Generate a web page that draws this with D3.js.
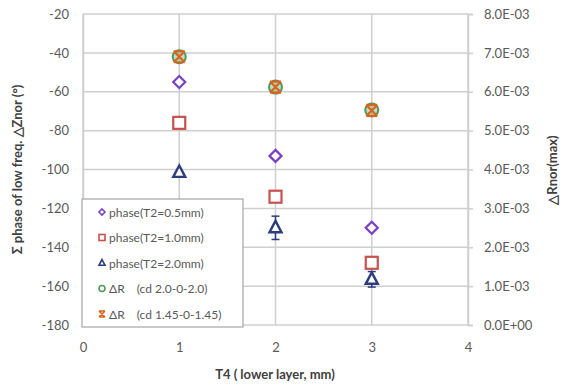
<!DOCTYPE html>
<html>
<head>
<meta charset="utf-8">
<script src="https://cdn.jsdelivr.net/npm/d3@7"></script>
<style>
  html, body { margin: 0; padding: 0; background: #fff; }
  svg { display: block; font-family: Lato, "Open Sans", sans-serif; }
</style>
</head>
<body>
<svg id="chart" width="569" height="387"></svg>
<script>
// T4 thickness (lower layer, mm)
const t4 = [1, 2, 3];

// Σ phase of low-frequency ΔZnor (°), left axis
const phaseT2_05 = [-55, -93, -130];
const phaseT2_10 = [-76, -114, -148];
const phaseT2_20 = [-101.5, -130, -156.5];
const phaseT2_20Err = [0, 6, 4];

// ΔRnor(max), right axis
const dR_cd20 = [0.0069, 0.00612, 0.00553];
const dR_cd145 = [0.0069, 0.00612, 0.00552];

const xTicks = [0, 1, 2, 3, 4];
const yLeftTicks = [-20, -40, -60, -80, -100, -120, -140, -160, -180];
const yRightTicks = [0, 0.001, 0.002, 0.003, 0.004, 0.005, 0.006, 0.007, 0.008];

const legendLabels = [
  "phase(T2=0.5mm)",
  "phase(T2=1.0mm)",
  "phase(T2=2.0mm)",
  "ΔR\u3000(cd 2.0-0-2.0)",
  "ΔR\u3000(cd 1.45-0-1.45)"
];

const svg = d3.select("#chart");
const plot = { left: 83, right: 468, top: 14, bottom: 325 };

const x = d3.scaleLinear().domain([0, 4]).range([plot.left, plot.right]);
const yL = d3.scaleLinear().domain([-180, -20]).range([plot.bottom, plot.top]);
const yR = d3.scaleLinear().domain([0, 0.008]).range([plot.bottom, plot.top]);

const gridColor = "#cfcfcf";
const textColor = "#595959";

// gridlines
svg.append("g").selectAll("line").data(yLeftTicks).join("line")
  .attr("x1", plot.left).attr("x2", plot.right)
  .attr("y1", d => yL(d)).attr("y2", d => yL(d))
  .attr("stroke", gridColor).attr("stroke-width", 1.5);
svg.append("g").selectAll("line").data(xTicks).join("line")
  .attr("x1", d => x(d)).attr("x2", d => x(d))
  .attr("y1", plot.top).attr("y2", plot.bottom)
  .attr("stroke", gridColor).attr("stroke-width", 1.5);

// axes
const axisLeft = d3.axisLeft(yL).tickValues(yLeftTicks).tickSize(0).tickPadding(14)
  .tickFormat(d => String(d));
const axisRight = d3.axisRight(yR).tickValues(yRightTicks).tickSize(5).tickPadding(11)
  .tickFormat(d => d.toExponential(1).toUpperCase().replace(/E([+-])(\d)$/, "E$10$2"));
const axisBottom = d3.axisBottom(x).tickValues(xTicks).tickSize(0).tickPadding(18)
  .tickFormat(d => String(d));

function styleAxis(g) {
  g.select(".domain").attr("stroke", gridColor).attr("stroke-width", 1.5);
  g.selectAll(".tick line").attr("stroke", gridColor).attr("stroke-width", 1.5);
  g.selectAll(".tick text").attr("fill", textColor).style("font-size", "13px")
    .style("font-family", "Lato, 'Open Sans', sans-serif");
}
svg.append("g").attr("transform", `translate(${plot.left},0)`).call(axisLeft).call(styleAxis);
svg.append("g").attr("transform", `translate(${plot.right},0)`).call(axisRight).call(styleAxis);
svg.append("g").attr("transform", `translate(0,${plot.bottom})`).call(axisBottom).call(styleAxis)
  .select(".domain").remove();

// axis titles
svg.append("text")
  .attr("transform", `translate(22,${(plot.top + plot.bottom) / 2}) rotate(-90)`)
  .attr("text-anchor", "middle").attr("fill", "#404040")
  .style("font-size", "13px").style("font-weight", "bold")
  .text("Σ phase of low freq. △Znor (°)");
svg.append("text")
  .attr("transform", `translate(557,170) rotate(-90)`)
  .attr("text-anchor", "middle").attr("fill", "#404040")
  .style("font-size", "13px").style("font-weight", "bold")
  .text("△Rnor(max)");
svg.append("text")
  .attr("x", 275).attr("y", 379)
  .attr("text-anchor", "middle").attr("fill", "#404040")
  .style("font-size", "13px").style("font-weight", "bold")
  .text("T4 ( lower layer, mm)");

// marker drawing
const markers = {
  diamond: (g, s, color) => g.append("path")
    .attr("d", `M0,${-s}L${s},0L0,${s}L${-s},0Z`)
    .attr("fill", "#fff").attr("stroke", color).attr("stroke-width", 2.2),
  square: (g, s, color) => g.append("rect")
    .attr("x", -s).attr("y", -s).attr("width", 2 * s).attr("height", 2 * s)
    .attr("fill", "#fff").attr("stroke", color).attr("stroke-width", 2.2),
  triangle: (g, s, color) => g.append("path")
    .attr("d", `M0,${-s * 1.15}L${s},${s * 0.75}L${-s},${s * 0.75}Z`)
    .attr("fill", "#fff").attr("stroke", color).attr("stroke-width", 2.4),
  circle: (g, s, color) => g.append("circle").attr("r", s)
    .attr("fill", "#fff").attr("stroke", color).attr("stroke-width", 2),
  cross: (g, s, color) => g.append("path")
    .attr("d", `M${-s},${-s}L${s},${s}M${s},${-s}L${-s},${s}M${-s},${-s}L${s},${-s}M${-s},${s}L${s},${s}`)
    .attr("fill", "none").attr("stroke", color).attr("stroke-width", 2.2)
};

const series = [
  { vals: phaseT2_05, y: yL, shape: "diamond", size: 6, color: "#7a3fc2" },
  { vals: phaseT2_10, y: yL, shape: "square", size: 6, color: "#c8504d" },
  { vals: phaseT2_20, y: yL, shape: "triangle", size: 6, color: "#2b3d7c", err: phaseT2_20Err },
  { vals: dR_cd20, y: yR, shape: "circle", size: 6.5, color: "#4e9a5a", fillDot: true },
  { vals: dR_cd145, y: yR, shape: "cross", size: 5.5, color: "#d8641e" }
];

series.forEach(s => {
  const g = svg.append("g");
  if (s.err) {
    const eb = g.append("g").selectAll("g").data(t4.map((t, i) => ({ t, v: s.vals[i], e: s.err[i] })).filter(d => d.e > 0))
      .join("g").attr("stroke", s.color).attr("stroke-width", 1.5);
    eb.append("line").attr("x1", d => x(d.t)).attr("x2", d => x(d.t))
      .attr("y1", d => s.y(d.v + d.e)).attr("y2", d => s.y(d.v - d.e));
    eb.append("line").attr("x1", d => x(d.t) - 4).attr("x2", d => x(d.t) + 4)
      .attr("y1", d => s.y(d.v + d.e)).attr("y2", d => s.y(d.v + d.e));
    eb.append("line").attr("x1", d => x(d.t) - 4).attr("x2", d => x(d.t) + 4)
      .attr("y1", d => s.y(d.v - d.e)).attr("y2", d => s.y(d.v - d.e));
  }
  t4.forEach((t, i) => {
    const m = g.append("g").attr("transform", `translate(${x(t)},${s.y(s.vals[i])})`);
    markers[s.shape](m, s.size, s.color);
    if (s.fillDot) m.select("circle").attr("fill", "#4e9a5a").attr("fill-opacity", 0.35);
  });
});

// legend
const legend = svg.append("g").attr("transform", "translate(82,199)");
legend.append("rect").attr("width", 161).attr("height", 128)
  .attr("fill", "#fff").attr("stroke", "#a6a6a6").attr("stroke-width", 1.2);
legendLabels.forEach((label, i) => {
  const yy = 13 + i * 25.5;
  const m = legend.append("g").attr("transform", `translate(20,${yy})`);
  markers[series[i].shape](m, 3, series[i].color).attr("stroke-width", 1.6);
  legend.append("text").attr("x", 27).attr("y", yy + 4.5)
    .attr("fill", textColor).style("font-size", "12px")
    .text(label);
});
</script>
</body>
</html>
